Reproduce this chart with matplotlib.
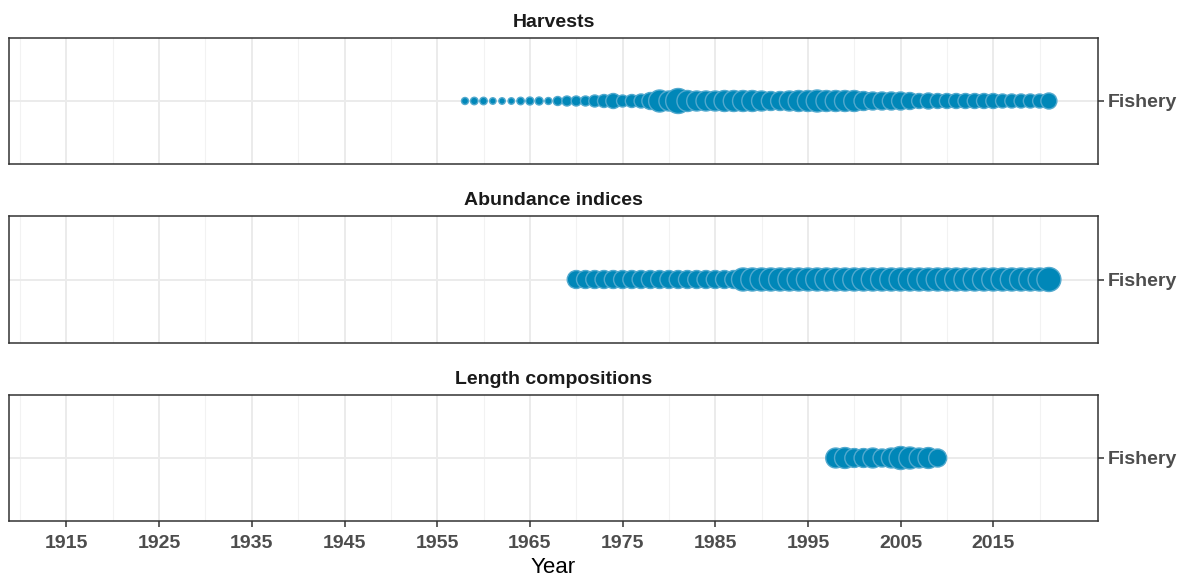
import numpy as np
import matplotlib.pyplot as plt

plt.rcParams['font.family'] = ['Liberation Sans', 'DejaVu Sans']

# catch by year (t)
harvest_years = list(range(1958, 2022))
harvest_catch = [245, 280, 280, 210, 210, 210, 280, 320, 320, 245,
                 405, 500, 500, 500, 720, 845, 1125, 720, 845, 980,
                 1445, 2420, 2000, 3125, 2205, 2000, 2000, 2000, 2205, 2205,
                 2205, 2205, 2000, 1805, 1805, 2000, 2205, 2205, 2420, 2205,
                 2205, 2205, 2205, 1805, 1620, 1620, 1620, 1620, 1445, 1125,
                 1280, 1125, 1125, 1125, 1125, 1125, 1125, 1125, 980, 980,
                 980, 980, 980, 1280]

# index precision (1/CV)
index_years = list(range(1970, 2022))
index_weight = [0.56] * 18 + [0.92] * 33 + [1.0]

# length sample sizes
length_years = list(range(1998, 2010))
length_nsamp = [300, 330, 270, 270, 300, 245, 300, 400, 365, 300, 330, 245]

fleet_label = 'Fishery'
panel_titles = ['Harvests', 'Abundance indices', 'Length compositions']
panel_data = [(harvest_years, harvest_catch, 25),
              (index_years, index_weight, 24),
              (length_years, length_nsamp, 23)]

fig = plt.figure(figsize=(11.93, 5.81), dpi=100)
left, width = 9 / 1193, (1098 - 9) / 1193
boxes = [(38, 164), (216, 343), (395, 521)]

px = 72 / 100  # points per pixel
for i, ((top, bot), title, (yrs, vals, dmax)) in enumerate(zip(boxes, panel_titles, panel_data)):
    ax = fig.add_axes([left, 1 - bot / 581, width, (bot - top) / 581])
    vals = np.array(vals, dtype=float)
    diam = dmax * np.sqrt(vals / vals.max())
    ax.scatter(yrs, np.zeros(len(yrs)), s=(diam * px) ** 2,
               facecolor='#0087b8', edgecolor='#52a9ce', linewidth=1.0,
               zorder=3)
    ax.set_xlim(1908.8, 2026.3)
    ax.set_ylim(-0.6, 0.6)
    ax.set_xticks(np.arange(1915, 2025, 10))
    ax.set_xticks(np.arange(1910, 2030, 10), minor=True)
    ax.grid(which='major', color='#ebebeb', linewidth=1.4, zorder=0)
    ax.grid(which='minor', axis='x', color='#f2f2f2', linewidth=0.8, zorder=0)
    ax.set_yticks([0])
    ax.set_yticklabels([fleet_label])
    ax.yaxis.tick_right()
    ax.tick_params(axis='y', length=4, width=1.1, color='#333333', pad=3,
                   labelsize=14, labelcolor='#4d4d4d')
    for lab in ax.get_yticklabels():
        lab.set_fontweight('bold')
    ax.tick_params(axis='x', which='minor', length=0)
    if i < 2:
        ax.tick_params(axis='x', which='major', length=0, labelbottom=False)
    else:
        ax.tick_params(axis='x', which='major', length=4, width=1.1,
                       color='#333333', labelsize=14, labelcolor='#4d4d4d', pad=6)
        for lab in ax.get_xticklabels():
            lab.set_fontweight('bold')
        ax.set_xlabel('Year', fontsize=16, color='black', labelpad=4)
    for sp in ax.spines.values():
        sp.set_color('#333333')
        sp.set_linewidth(1.1)
    ax.set_title(title, fontsize=14, fontweight='bold', color='#1a1a1a', pad=8)

fig.savefig('out.png', dpi=100)
